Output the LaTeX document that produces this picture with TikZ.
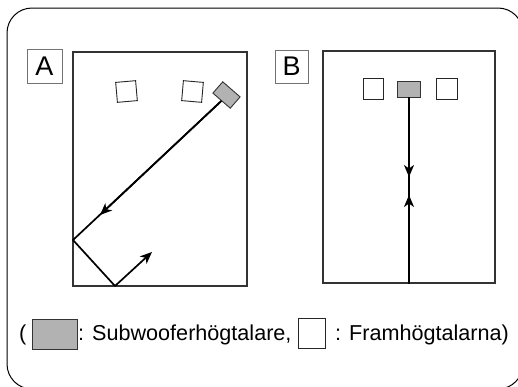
\documentclass[tikz,border=0pt]{standalone}
\usepackage{fontspec}
\setmainfont{Liberation Sans}
\usetikzlibrary{arrows.meta}
\begin{document}
\begin{tikzpicture}[x=1pt,y=-1pt,
  spk/.style={draw=black!85, line width=0.9pt, fill=white, inner sep=0pt, minimum width=20pt, minimum height=20pt},
  subspk/.style={draw=black!80, line width=0.9pt, fill=black!30, inner sep=0pt},
  room/.style={draw=black!80, line width=1.6pt, inner sep=0pt},
  lbl/.style={draw=black!55, line width=0.9pt, inner sep=0pt, font=\fontsize{27}{27}\selectfont},
  ray/.style={line width=1.7pt},
  tip/.style={-{Stealth[length=12pt,width=10pt,inset=3.5pt]}},
  legtxt/.style={inner sep=0pt, anchor=base west, font=\fontsize{21.6}{24}\selectfont}
]
\useasboundingbox (0,0) rectangle (518,386);
\draw[rounded corners=25pt, line width=1pt] (7,8) rectangle (523,389);

% Panel A
\node (labA) [lbl, minimum width=35pt, minimum height=34pt] at (44.5,66) {A};
\node (roomA) [room, minimum width=174pt, minimum height=234pt] at (160,169) {};
\node (a1) [spk, rotate=5] at (126.5,91.5) {};
\node (a2) [spk, rotate=-5] at (192.5,91.5) {};
\node (sa) [subspk, minimum width=23pt, minimum height=15pt, rotate=-41] at (226.5,95) {};
\coordinate (m1) at (100,215);
\coordinate (w1) at (73,240);
\coordinate (w2) at (115,286);
\coordinate (e1) at (152,252);
\draw[ray] (sa.south) -- (w1) -- (w2);
\draw[ray, tip] (sa.south) -- (m1);
\draw[ray, tip] (w2) -- (e1);

% Panel B
\node (labB) [lbl, minimum width=33pt, minimum height=33pt] at (291.5,66.5) {B};
\node (roomB) [room, minimum width=172pt, minimum height=232pt] at (409,167) {};
\node (b1) [spk, minimum height=21pt] at (373,88.5) {};
\node (sb) [subspk, minimum width=23pt, minimum height=16pt] at (409,89) {};
\node (b2) [spk, minimum width=21pt, minimum height=21pt] at (446.5,88.5) {};
\coordinate (mb1) at (409,177);
\coordinate (mb2) at (409,195);
\draw[ray] (sb.south) -- (roomB.south);
\draw[ray, tip] (sb.south) -- (mb1);
\draw[ray, tip] (roomB.south) -- (mb2);

% Legend
\node (po) [legtxt] at (19,340) {(};
\node (lgsub) [subspk, minimum width=45pt, minimum height=30pt] at (54.5,334) {};
\node (tsub) [legtxt] at (78,340) {: Subwooferhögtalare,};
\node (lgfr) [spk, minimum width=27pt, minimum height=30pt] at (312,333) {};
\node (tfr) [legtxt] at (335,340) {: Framhögtalarna)};
\end{tikzpicture}
\end{document}
